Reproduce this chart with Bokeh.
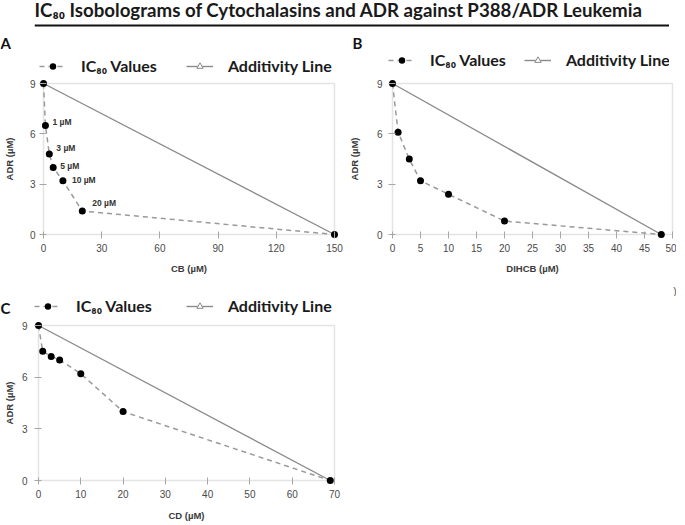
from bokeh.plotting import figure
from bokeh.models import (Legend, LegendItem, Label, Span, Range1d, ColumnDataSource,
                          FixedTicker, BoxAnnotation, Title)
from bokeh.layouts import column, row
from bokeh.embed import file_html
from bokeh.resources import INLINE
from bokeh.core.properties import value

# ---------------- data ----------------
title_text = "IC\u2088\u2080 Isobolograms of Cytochalasins and ADR against P388/ADR Leukemia"
legend_labels = ["IC\u2088\u2080 Values", "Additivity Line"]
adr_ticks = [0, 3, 6, 9]
adr_max = 9

cb_x = [0, 1, 3, 5, 10, 20, 150]
cb_adr = [9, 6.5, 4.8, 4.0, 3.2, 1.4, 0]
cb_point_labels = ["", "1 \u00b5M", "3 \u00b5M", "5 \u00b5M", "10 \u00b5M", "20 \u00b5M", ""]
cb_ticks = [0, 30, 60, 90, 120, 150]
cb_max = 150

dihcb_x = [0, 1, 3, 5, 10, 20, 48]
dihcb_adr = [9, 6.1, 4.5, 3.2, 2.4, 0.8, 0]
dihcb_ticks = [0, 5, 10, 15, 20, 25, 30, 35, 40, 45, 50]
dihcb_max = 50

cd_x = [0, 1, 3, 5, 10, 20, 69]
cd_adr = [9, 7.5, 7.2, 7.0, 6.2, 4.0, 0]
cd_ticks = [0, 10, 20, 30, 40, 50, 60, 70]
cd_max = 70

# ---------------- styles ----------------
PAD = 4
BOX = "#a6a6a6"
ADD = "#8a8a8a"
DASH = "#9a9a9a"
LEG_FONT = "Lato"
TICK_FONT = "Liberation Sans"
cb_lab_dx = [0, 7, 7, 7, 9, 10, 0]
cb_lab_dy = [0, -3, -6, -1, -1, -8, 0]


def blank(w, h, border_right=0, xr=None, yr=None):
    fw = w - border_right
    p = figure(frame_width=fw, frame_height=h, min_border_left=0,
               min_border_top=0, min_border_bottom=0, min_border_right=border_right,
               x_range=xr or Range1d(0, fw), y_range=yr or Range1d(0, h),
               x_axis_location=None, y_axis_location=None, outline_line_color=None,
               output_backend="svg", toolbar_location=None,
               background_fill_color="white", border_fill_color="white")
    p.grid.visible = False
    return p


def letter_label(p, letter, xy, align="left"):
    p.add_layout(Label(x=xy[0], y=xy[1], x_units="screen", y_units="screen",
                       text=letter, text_font=LEG_FONT, text_font_size="15px",
                       text_font_style="bold", text_color="#111111",
                       text_align=align, text_baseline="middle"))


def header(w, h, x, y, leg_x, leg_cy, spacing, letter=None, letter_xy=None):
    # legend proxies plot the panel's own data, but the header's ranges
    # lie outside it, so only the legend swatches are shown
    p = blank(w, h, xr=Range1d(-2, -1), yr=Range1d(-2, -1))
    r_dash = p.line(x, y, line_color=DASH, line_dash="5 4", line_width=1.5)
    r_pts = p.scatter(x, y, size=7, fill_color="black", line_color=None)
    r_add = p.line([x[0], x[-1]], [y[0], y[-1]], line_color=ADD, line_width=1.4)
    r_tri = p.scatter([x[0], x[-1]], [y[0], y[-1]], marker="triangle", size=6,
                      fill_color="white", line_color=ADD)
    legend = Legend(items=[LegendItem(label=legend_labels[0], renderers=[r_dash, r_pts]),
                           LegendItem(label=legend_labels[1], renderers=[r_add, r_tri])],
                    location=(leg_x, leg_cy - 8), orientation="horizontal",
                    glyph_width=27, glyph_height=16, label_height=16, label_standoff=15,
                    spacing=spacing, padding=0, margin=0, border_line_color=None,
                    background_fill_alpha=0, label_text_font=LEG_FONT,
                    label_text_font_size="16px", label_text_font_style="bold",
                    label_text_color="#1a1a1a")
    p.add_layout(legend)
    if letter is not None:
        letter_label(p, letter, letter_xy)
    return p


def make_panel(x, y, xlabel, xmax, xticks, fig_w, fig_h, box_l, box_t, box_w, box_h,
               x_std, x_als, y_std, y_als, point_labels=None, extra=None):
    px_x = box_w / xmax
    px_y = box_h / adr_max
    fl, ft = box_l - PAD, box_t - PAD
    fw, fh = box_w + 2 * PAD, box_h + 2 * PAD
    p = figure(frame_width=fw, frame_height=fh,
               min_border_left=fl, min_border_top=ft,
               min_border_right=fig_w - fl - fw, min_border_bottom=fig_h - ft - fh,
               x_range=Range1d(-PAD / px_x, xmax + PAD / px_x),
               y_range=Range1d(-PAD / px_y, adr_max + PAD / px_y),
               output_backend="svg", toolbar_location=None,
               outline_line_color=None, background_fill_color="white",
               border_fill_color="white")
    p.grid.visible = False
    p.add_layout(BoxAnnotation(left=0, right=xmax, bottom=0, top=adr_max,
                               fill_alpha=0, line_color=BOX, line_width=1.5,
                               level="underlay"))
    for ax in (p.xaxis[0], p.yaxis[0]):
        ax.axis_line_color = None
        ax.major_tick_line_color = BOX
        ax.major_tick_in = PAD + 3
        ax.major_tick_out = 0
        ax.minor_tick_line_color = None
        ax.major_label_text_font = TICK_FONT
        ax.major_label_text_font_size = "10px"
        ax.major_label_text_color = "#4a4a4a"
        ax.axis_label_text_font = TICK_FONT
        ax.axis_label_text_font_size = "9.5px"
        ax.axis_label_text_font_style = "bold"
        ax.axis_label_text_color = "#3a3a3a"
    p.xaxis.ticker = FixedTicker(ticks=xticks)
    p.yaxis.ticker = FixedTicker(ticks=adr_ticks)
    p.xaxis.axis_label = xlabel
    p.yaxis.axis_label = "ADR (\u00b5M)"
    p.xaxis.major_label_standoff = x_std
    p.xaxis.axis_label_standoff = x_als
    p.yaxis.major_label_standoff = y_std
    p.yaxis.axis_label_standoff = y_als

    p.line(x, y, line_color=DASH, line_dash="5 4", line_width=1.5)
    p.line([x[0], x[-1]], [y[0], y[-1]], line_color=ADD, line_width=1.4)
    p.scatter(x, y, size=7, fill_color="black", line_color=None)

    if point_labels is not None:
        src = ColumnDataSource(dict(x=x, y=y, t=point_labels, dx=cb_lab_dx, dy=cb_lab_dy))
        p.text("x", "y", text="t", x_offset="dx", y_offset="dy", source=src,
               text_font=value(TICK_FONT), text_font_size="8.5px",
               text_font_style="bold", text_color="#333333",
               text_baseline="middle", text_align="left")
    if extra is not None:
        p.add_layout(Title(text=extra, align="right", text_font=TICK_FONT,
                           text_font_size="10px", text_font_style="normal",
                           text_color="#505050", standoff=-40), "below")
    return p


# title strip (34 px)
t = blank(669, 34, border_right=24)
t.add_layout(Label(x=0, y=25, x_units="screen", y_units="screen", text=title_text,
                   text_font=LEG_FONT, text_font_size="18.7px", text_font_style="bold",
                   text_color="#1a1a1a", text_baseline="middle", text_align="left"))
t.add_layout(Span(location=9, dimension="width", line_color="#111111", line_width=2))

hA = header(336, 43, cb_x, cb_adr, 39, 10, 29, "A", (0, 35))
hB = header(333, 43, dihcb_x, dihcb_adr, 52, 16, 18, "B", (16, 35))
pA = make_panel(cb_x, cb_adr, "CB (\u00b5M)", cb_max, cb_ticks, 336, 219,
                36, 6, 291, 151, 5, 8, 4, 12, point_labels=cb_point_labels)
pB = make_panel(dihcb_x, dihcb_adr, "DIHCB (\u00b5M)", dihcb_max, dihcb_ticks, 333, 219,
                49, 4, 280, 151, 5, 8, 6, 14, extra=")")
cL = blank(24, 22)
letter_label(cL, "C", (0, 11))
hC = header(645, 22, cd_x, cd_adr, 10, 11, 34)
pC = make_panel(cd_x, cd_adr, "CD (\u00b5M)", cd_max, cd_ticks, 340, 203,
                33, 7, 296, 155, 5, 9, 7, 4)

layout = column(t, row(hA, hB), row(pA, pB), row(cL, hC), pC)
open("out.html", "w").write(file_html(layout, INLINE))
